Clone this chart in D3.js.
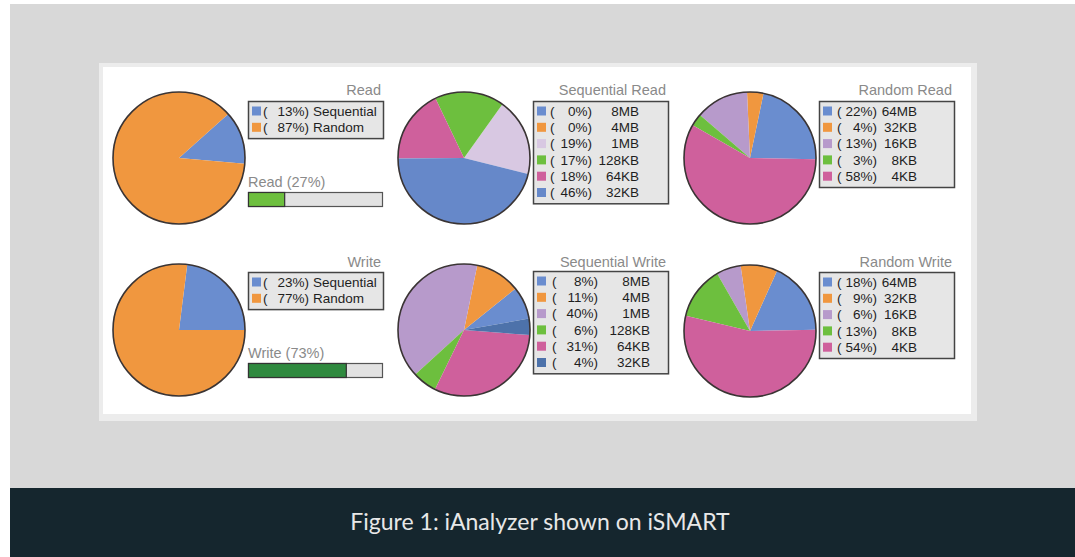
<!DOCTYPE html>
<html><head><meta charset="utf-8">
<script src="https://cdn.jsdelivr.net/npm/d3@7"></script>
<style>body{margin:0;background:#fff}svg{display:block}</style>
</head><body><svg id="c" width="1075" height="557"></svg>
<script>
// ---- data ----
const mixLabels = ["Sequential", "Random"];
const readMixValues = [13, 87];
const writeMixValues = [23, 77];
const seqSizeLabels = ["8MB", "4MB", "1MB", "128KB", "64KB", "32KB"];
const seqReadValues = [0, 0, 19, 17, 18, 46];
const seqWriteValues = [8, 11, 40, 6, 31, 4];
const randSizeLabels = ["64MB", "32KB", "16KB", "8KB", "4KB"];
const randReadValues = [22, 4, 13, 3, 58];
const randWriteValues = [18, 9, 6, 13, 54];
const shareLabels = ["Read", "Write"];
const shareValues = [27, 73];
const panelTitles = ["Read", "Sequential Read", "Random Read", "Write", "Sequential Write", "Random Write"];
const captionText = "Figure 1: iAnalyzer shown on iSMART";

// ---- styles ----
const C = {blue:"#6a8dcf", orange:"#f0973f", green:"#6dbf3e", pink:"#cf609c",
  purple:"#b79acb", lavender:"#d8c8e2", blue2:"#6688c9", dblue:"#4d72aa", dgreen:"#2f8a3f"};
const FONT = "'Liberation Sans', Arial, Helvetica, sans-serif";

const svg = d3.select("#c");
svg.append("rect").attr("x",10).attr("y",4).attr("width",1065).attr("height",484).attr("fill","#d8d8d8");
svg.append("rect").attr("x",10).attr("y",488).attr("width",1065).attr("height",69).attr("fill","#15262e");
svg.append("text").attr("x",540).attr("y",530).attr("text-anchor","middle")
  .attr("font-family","Lato, 'Open Sans', sans-serif").attr("font-size",23).attr("fill","#e8e8e8")
  .text(captionText);
svg.append("rect").attr("x",99).attr("y",63).attr("width",878).attr("height",358).attr("fill","#ececec");
svg.append("rect").attr("x",103).attr("y",67).attr("width",868).attr("height",347).attr("fill","#ffffff");

const panels = [
  {title:panelTitles[0], labels:mixLabels, values:readMixValues, colors:[C.blue,C.orange], cx:179, cy:158, start:-5, boxX:248, boxY:101, kind:"mix", lay:[15,61,65]},
  {title:panelTitles[1], labels:seqSizeLabels, values:seqReadValues, colors:[C.blue,C.orange,C.lavender,C.green,C.pink,C.blue2], cx:464, cy:158, start:-14, boxX:533, boxY:101, kind:"size", lay:[17,59,106]},
  {title:panelTitles[2], labels:randSizeLabels, values:randReadValues, colors:[C.blue,C.orange,C.purple,C.green,C.pink], cx:750, cy:158, start:-1, boxX:819, boxY:101, kind:"size", lay:[18,58,98]},
  {title:panelTitles[3], labels:mixLabels, values:writeMixValues, colors:[C.blue,C.orange], cx:179, cy:330, start:0, boxX:248, boxY:272, kind:"mix", lay:[15,61,65]},
  {title:panelTitles[4], labels:seqSizeLabels, values:seqWriteValues, colors:[C.blue,C.orange,C.purple,C.green,C.pink,C.dblue], cx:464, cy:330, start:10, boxX:533, boxY:271, kind:"size", lay:[19,65,117]},
  {title:panelTitles[5], labels:randSizeLabels, values:randWriteValues, colors:[C.blue,C.orange,C.purple,C.green,C.pink], cx:750, cy:331, start:1, boxX:819, boxY:272, kind:"size", lay:[18,58,98]}
];

const R = 66, rowH = 16.3, boxW = 135;
const rad = d => d * Math.PI / 180;
const arc = d3.arc().innerRadius(0).outerRadius(R);

panels.forEach(p => {
  const pie = d3.pie().sort(null).value(d => d)
    .startAngle(rad(90 - p.start)).endAngle(rad(90 - p.start - 360));
  const g = svg.append("g").attr("transform", `translate(${p.cx},${p.cy})`);
  g.selectAll("path").data(pie(p.values)).join("path")
    .attr("d", arc).attr("fill", (d, i) => p.colors[i]);
  g.append("circle").attr("r", R).attr("fill", "none").attr("stroke", "#3a3434").attr("stroke-width", 1.6);

  // title
  svg.append("text").attr("x", p.boxX + boxW - 2).attr("y", p.cy > 250 ? 267 : 95)
    .attr("text-anchor", "end").attr("font-family", FONT).attr("font-size", 14.5).attr("fill", "#8a8a8a")
    .text(p.title);

  // legend box
  const n = p.values.length;
  const bh = n * rowH + 4.5;
  svg.append("rect").attr("x", p.boxX + 0.5).attr("y", p.boxY + 0.5).attr("width", boxW).attr("height", bh)
    .attr("fill", "#e6e6e6").attr("stroke", "#444").attr("stroke-width", 1.5);
  const rows = svg.append("g").selectAll("g").data(p.values).join("g")
    .attr("transform", (d, i) => `translate(${p.boxX},${p.boxY + 10 + i * rowH})`);
  rows.append("rect").attr("x", 4).attr("y", -4.5).attr("width", 9).attr("height", 9)
    .attr("fill", (d, i) => p.colors[i]);
  const tx = sel => sel.attr("font-family", FONT).attr("font-size", 13.5).attr("fill", "#1e1e1e").attr("dy", "0.36em");
  rows.append("text").attr("x", p.lay[0]).text("(").call(tx);
  rows.append("text").attr("x", p.lay[1]).attr("text-anchor", "end").text(d => d + "%)").call(tx);
  rows.append("text").attr("x", p.lay[2]).attr("text-anchor", p.kind === "mix" ? "start" : "end")
    .text((d, i) => p.labels[i]).call(tx);
});

// read / write share bars
const bx = d3.scaleLinear().domain([0, 100]).range([0, 134]);
const barY = [192, 363];
const barColors = [C.green, C.dgreen];
shareValues.forEach((v, i) => {
  const y = barY[i];
  svg.append("text").attr("x", 248).attr("y", y - 5).attr("font-family", FONT).attr("font-size", 14.5)
    .attr("fill", "#8a8a8a").text(`${shareLabels[i]} (${v}%)`);
  svg.append("rect").attr("x", 248.5).attr("y", y + 0.5).attr("width", bx(100)).attr("height", 14)
    .attr("fill", "#e2e2e2").attr("stroke", "#555").attr("stroke-width", 1.2);
  svg.append("rect").attr("x", 248.5).attr("y", y + 0.5).attr("width", bx(v)).attr("height", 14)
    .attr("fill", barColors[i]).attr("stroke", "#333").attr("stroke-width", 1.2);
});
</script></body></html>
